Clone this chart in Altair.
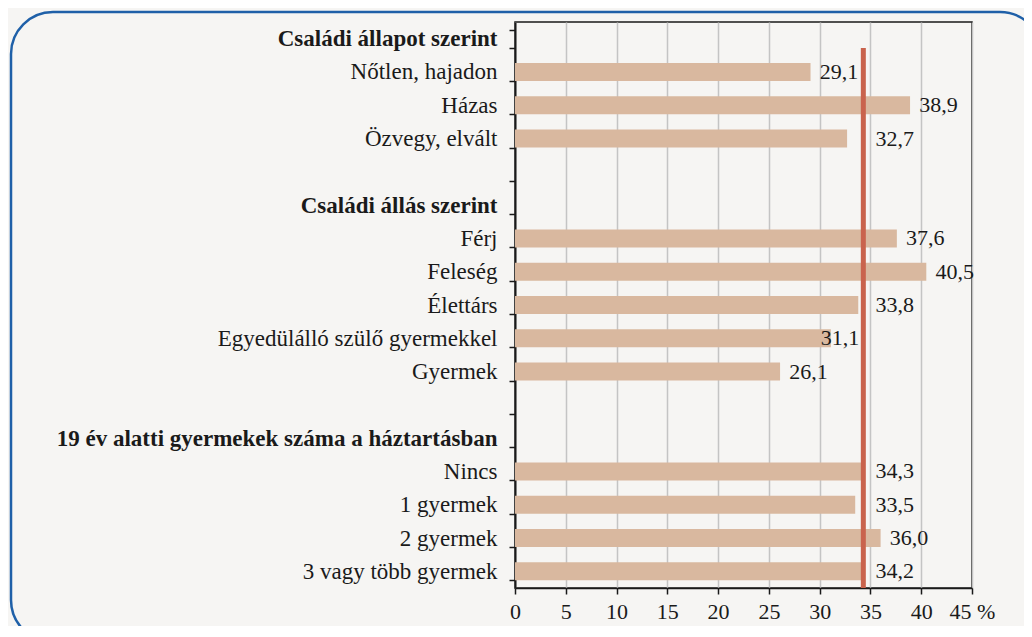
import altair as alt
import pandas as pd

# ---- data ----
categories = [
    "Családi állapot szerint", "Nőtlen, hajadon\u00a0", "Házas", "Özvegy, elvált", " ",
    "Családi állás szerint", "Férj", "Feleség", "Élettárs",
    "Egyedülálló szülő gyermekkel", "Gyermek", "  ",
    "19 év alatti gyermekek száma a háztartásban\u00a0",
    "Nincs\u00a0\u00a0", "1 gyermek", "2 gyermek", "3 vagy több gyermek",
]
values = [None, 29.1, 38.9, 32.7, None,
          None, 37.6, 40.5, 33.8, 31.1, 26.1, None,
          None, 34.3, 33.5, 36.0, 34.2]
headers = ["Családi állapot szerint", "Családi állás szerint",
           "19 év alatti gyermekek száma a háztartásban\u00a0"]
average = [34.3]
x_ticks = [0, 5, 10, 15, 20, 25, 30, 35, 40, 45]

FONT = "Liberation Serif"
FS = 23
FS_VAL = 22
BAR = "#d9b89f"
RED = "#c9634d"
BLUE = "#1f60a8"
BG = "#f6f5f3"
INK = "#1a1a1a"

AVG = average[0]
df = pd.DataFrame({"cat": categories, "val": values})
df["lab"] = df["val"].map(lambda v: "" if pd.isna(v) else f"{v:.1f}".replace(".", ","))
bars_df = df.dropna(subset=["val"])
avg_df = pd.DataFrame({"avg": average})

W, H = 457, 566

bold_test = " || ".join([f"datum.value == '{h}'" for h in headers])

y_enc = alt.Y(
    "cat:N",
    sort=categories,
    scale=alt.Scale(domain=categories, paddingInner=0.46, paddingOuter=0.23),
    axis=alt.Axis(
        title=None,
        labelFont=FONT,
        labelFontSize=FS,
        labelColor=INK,
        labelFontWeight=alt.condition(bold_test, alt.value("bold"), alt.value("normal")),
        labelPadding=12,
        labelLimit=600,
        labelOverlap=False,
        tickBand="extent",
        tickSize=6,
        tickColor=INK,
        tickWidth=1.5,
        domainColor=INK,
        domainWidth=2,
        grid=False,
    ),
)

x_scale = alt.Scale(domain=[0, 45], nice=False)
x_axis = alt.Axis(
    title=None,
    values=x_ticks,
    labelFont=FONT,
    labelFontSize=FS_VAL,
    labelColor=INK,
    labelExpr="datum.value == 45 ? '45 %' : datum.label",
    labelPadding=7,
    labelOverlap=False,
    labelFlush=False,
    tickSize=6,
    tickColor=INK,
    tickWidth=1.5,
    domainColor=INK,
    domainWidth=1.5,
    grid=True,
    gridColor="#c4c4c4",
    gridWidth=1.5,
)

border = alt.Chart(alt.Data(values=[{}])).mark_rect(
    fill=BG, fillOpacity=0, stroke=BLUE, strokeWidth=2.5, cornerRadius=42
).encode(
    x=alt.value(-504), x2=alt.value(527), y=alt.value(-10), y2=alt.value(620)
)

bars = alt.Chart(bars_df).mark_bar(color=BAR).encode(
    x=alt.X("val:Q", scale=x_scale, axis=x_axis),
    y=y_enc,
)

# labels are kept clear of the average line: those that would cross it are
# moved back over the bar end, those ending near the line go just past it
labels = alt.Chart(bars_df).transform_calculate(
    lx=(
        f"datum.val > 32 && datum.val < {AVG} + 0.5 ? {AVG} + 1.2 : "
        f"(datum.val + 4.5 > {AVG} && datum.val < {AVG} ? datum.val - 1.0 : datum.val + 0.9)"
    )
).mark_text(
    align="left", baseline="middle", font=FONT, fontSize=FS_VAL, color=INK
).encode(
    x=alt.X("lx:Q", scale=x_scale),
    y=alt.Y("cat:N", sort=categories, scale=alt.Scale(domain=categories)),
    text="lab:N",
)

rule = alt.Chart(avg_df).mark_rule(color=RED, strokeWidth=5).encode(
    x=alt.X("avg:Q", scale=x_scale),
    y=alt.value(26),
    y2=alt.value(H),
)

chart = alt.layer(border, bars, labels, rule).properties(
    width=W,
    height=H,
    padding={"left": 507, "top": 14, "right": 52, "bottom": 38},
    autosize=alt.AutoSizeParams(type="none"),
    background=BG,
).configure_view(stroke=INK, strokeWidth=1.5)

chart.save("out.html", embed_options={"renderer": "svg", "actions": False})
